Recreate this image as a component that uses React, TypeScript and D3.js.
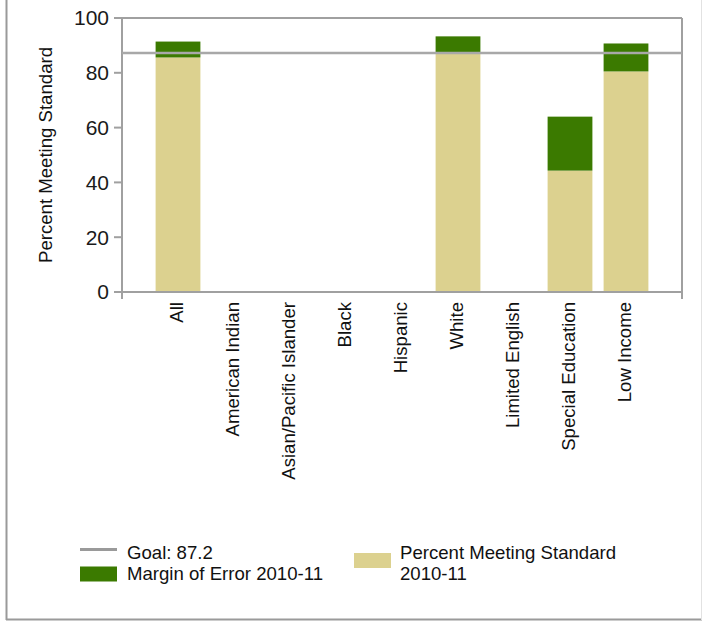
import React from "react";
import * as d3 from "d3";

const categories = [
  "All",
  "American Indian",
  "Asian/Pacific Islander",
  "Black",
  "Hispanic",
  "White",
  "Limited English",
  "Special Education",
  "Low Income",
];
const percentMeeting: (number | null)[] = [85.6, null, null, null, null, 87.3, null, 44.3, 80.5];
const marginOfError: (number | null)[] = [5.8, null, null, null, null, 6.0, null, 19.7, 10.2];
const goal = 87.2;
const yTicks = [0, 20, 40, 60, 80, 100];

const TAN = "#dcd18f";
const GREEN = "#3b7a00";
const AXIS = "#a0a0a0";
const FONT = "'Liberation Sans', Arial, sans-serif";

export default function App() {
  const W = 702;
  const H = 621;
  const left = 122;
  const right = 682;
  const top = 18;
  const bottom = 292;

  const x = d3.scaleLinear().domain([0, categories.length + 1]).range([left, right]);
  const y = d3.scaleLinear().domain([0, 100]).range([bottom, top]);
  const step = x(1) - x(0);
  const bw = step * 0.8;

  return (
    <svg
      width={W}
      height={H}
      style={{ position: "absolute", left: 0, top: 0, background: "#fff" }}
      fontFamily={FONT}
    >
      {/* outer frame */}
      <line x1={6.5} y1={0} x2={6.5} y2={620} stroke="#9a9a9a" strokeWidth={2} />
      <line x1={6} y1={619.5} x2={702} y2={619.5} stroke="#9a9a9a" strokeWidth={2} />
      <line x1={701.5} y1={0} x2={701.5} y2={620} stroke="#e2e2e2" strokeWidth={1} />

      {/* bars */}
      {categories.map((c, i) => {
        const v = percentMeeting[i];
        const m = marginOfError[i];
        if (v == null) return null;
        const cx = x(i + 1);
        return (
          <g key={c}>
            <rect x={cx - bw / 2} y={y(v)} width={bw} height={y(0) - y(v)} fill={TAN} />
            {m != null && (
              <rect x={cx - bw / 2} y={y(v + m)} width={bw} height={y(v) - y(v + m)} fill={GREEN} />
            )}
          </g>
        );
      })}

      {/* plot frame / axes */}
      <line x1={left} y1={top} x2={right} y2={top} stroke={AXIS} strokeWidth={2} />
      <line x1={right} y1={top} x2={right} y2={bottom + 7} stroke={AXIS} strokeWidth={2} />
      <line x1={left} y1={top} x2={left} y2={bottom + 7} stroke={AXIS} strokeWidth={2} />
      <line x1={left - 8} y1={bottom} x2={right} y2={bottom} stroke={AXIS} strokeWidth={2} />

      {/* goal line */}
      <line x1={left} y1={y(goal)} x2={right} y2={y(goal)} stroke="#a8a8a8" strokeWidth={2.5} />

      {/* y ticks */}
      {yTicks.map((t) => (
        <g key={t}>
          <line x1={left - 8} y1={y(t)} x2={left} y2={y(t)} stroke={AXIS} strokeWidth={2} />
          <text
            x={left - 13}
            y={y(t)}
            dy="0.35em"
            textAnchor="end"
            fontSize={21}
            fill="#1a1a1a"
          >
            {t}
          </text>
        </g>
      ))}

      {/* y axis title */}
      <text
        transform={`translate(45, ${(top + bottom) / 2}) rotate(-90)`}
        textAnchor="middle"
        dy="0.35em"
        fontSize={18.6}
        fill="#111"
      >
        Percent Meeting Standard
      </text>

      {/* category labels */}
      {categories.map((c, i) => (
        <text
          key={c}
          transform={`translate(${x(i + 1) - 2}, ${bottom + 10}) rotate(-90)`}
          textAnchor="end"
          dy="0.35em"
          fontSize={18.6}
          fill="#111"
        >
          {c}
        </text>
      ))}

      {/* legend */}
      <line x1={80} y1={549.5} x2={117} y2={549.5} stroke="#9a9a9a" strokeWidth={3} />
      <text x={127} y={558.5} fontSize={18.6} fill="#111">
        Goal: 87.2
      </text>
      <rect x={80} y={566.5} width={37} height={15} fill={GREEN} />
      <text x={127} y={580} fontSize={18.6} fill="#111">
        Margin of Error 2010-11
      </text>
      <rect x={354} y={553} width={37} height={15} fill={TAN} />
      <text x={400} y={558.5} fontSize={18.6} fill="#111">
        Percent Meeting Standard
      </text>
      <text x={400} y={579.5} fontSize={18.6} fill="#111">
        2010-11
      </text>
    </svg>
  );
}
